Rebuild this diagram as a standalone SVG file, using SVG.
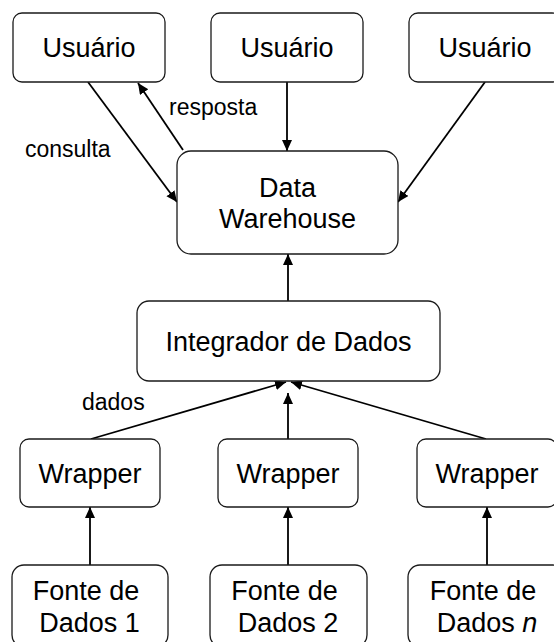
<svg xmlns="http://www.w3.org/2000/svg" width="554" height="642" viewBox="0 0 554 642">
  <style>
    .box { fill: #ffffff; stroke: #1a1a1a; stroke-width: 1.3; }
    .node-text { font-family: "Liberation Sans", Arial, sans-serif; font-size: 27px; fill: #000; text-anchor: middle; }
    .label { font-family: "Liberation Sans", Arial, sans-serif; font-size: 23px; fill: #000; }
    .edge { stroke: #000; stroke-width: 1.8; fill: none; marker-end: url(#arrow); }
  </style>
  <defs>
    <marker id="arrow" markerUnits="userSpaceOnUse" markerWidth="12" markerHeight="11" refX="11" refY="5" orient="auto">
      <path d="M0,0 L11,5 L0,10 z" fill="#000"/>
    </marker>
  </defs>
  <rect width="554" height="642" fill="#ffffff"/>

  <!-- connectors -->
  <g id="connectors">
    <line class="edge" x1="88" y1="82" x2="177" y2="202"/>
    <line class="edge" x1="183" y1="150" x2="138" y2="83"/>
    <line class="edge" x1="287" y1="82" x2="287" y2="151"/>
    <line class="edge" x1="485" y1="82" x2="398" y2="202"/>
    <line class="edge" x1="288" y1="301" x2="288" y2="254"/>
    <line class="edge" x1="91" y1="439" x2="286" y2="382"/>
    <line class="edge" x1="288" y1="439" x2="288" y2="393"/>
    <line class="edge" x1="486" y1="439" x2="291" y2="382"/>
    <line class="edge" x1="90" y1="565" x2="90" y2="507"/>
    <line class="edge" x1="288" y1="565" x2="288" y2="507"/>
    <line class="edge" x1="487" y1="565" x2="487" y2="507"/>
    <text class="label" x="169" y="115">resposta</text>
    <text class="label" x="25" y="157">consulta</text>
    <text class="label" x="82" y="410">dados</text>
  </g>

  <!-- users -->
  <g id="usuario1">
    <rect class="box" x="13" y="13" width="152" height="69" rx="9"/>
    <text class="node-text" x="89" y="57">Usuário</text>
  </g>
  <g id="usuario2">
    <rect class="box" x="211" y="13" width="152" height="69" rx="9"/>
    <text class="node-text" x="287" y="57">Usuário</text>
  </g>
  <g id="usuario3">
    <rect class="box" x="409" y="13" width="152" height="69" rx="9"/>
    <text class="node-text" x="485" y="57">Usuário</text>
  </g>

  <!-- warehouse -->
  <g id="data-warehouse">
    <rect class="box" x="177" y="151" width="221" height="103" rx="14"/>
    <text class="node-text" x="287.5" y="197">Data</text>
    <text class="node-text" x="287.5" y="228">Warehouse</text>
  </g>

  <!-- integrator -->
  <g id="integrador">
    <rect class="box" x="137" y="301" width="303" height="80" rx="12"/>
    <text class="node-text" x="288.5" y="351">Integrador de Dados</text>
  </g>

  <!-- wrappers -->
  <g id="wrapper1">
    <rect class="box" x="20" y="439" width="140" height="68" rx="9"/>
    <text class="node-text" x="90" y="483">Wrapper</text>
  </g>
  <g id="wrapper2">
    <rect class="box" x="218" y="439" width="140" height="68" rx="9"/>
    <text class="node-text" x="288" y="483">Wrapper</text>
  </g>
  <g id="wrapper3">
    <rect class="box" x="417" y="439" width="140" height="68" rx="9"/>
    <text class="node-text" x="487" y="483">Wrapper</text>
  </g>

  <!-- data sources -->
  <g id="fonte1">
    <rect class="box" x="12" y="565" width="156" height="82" rx="12"/>
    <text class="node-text" x="86" y="600">Fonte de</text>
    <text class="node-text" x="89.5" y="632">Dados 1</text>
  </g>
  <g id="fonte2">
    <rect class="box" x="210" y="565" width="157" height="82" rx="12"/>
    <text class="node-text" x="284.5" y="600">Fonte de</text>
    <text class="node-text" x="288" y="632">Dados 2</text>
  </g>
  <g id="fonte3">
    <rect class="box" x="408" y="565" width="157" height="82" rx="12"/>
    <text class="node-text" x="483" y="600">Fonte de</text>
    <text class="node-text" x="487" y="632">Dados <tspan font-style="italic">n</tspan></text>
  </g>
</svg>
